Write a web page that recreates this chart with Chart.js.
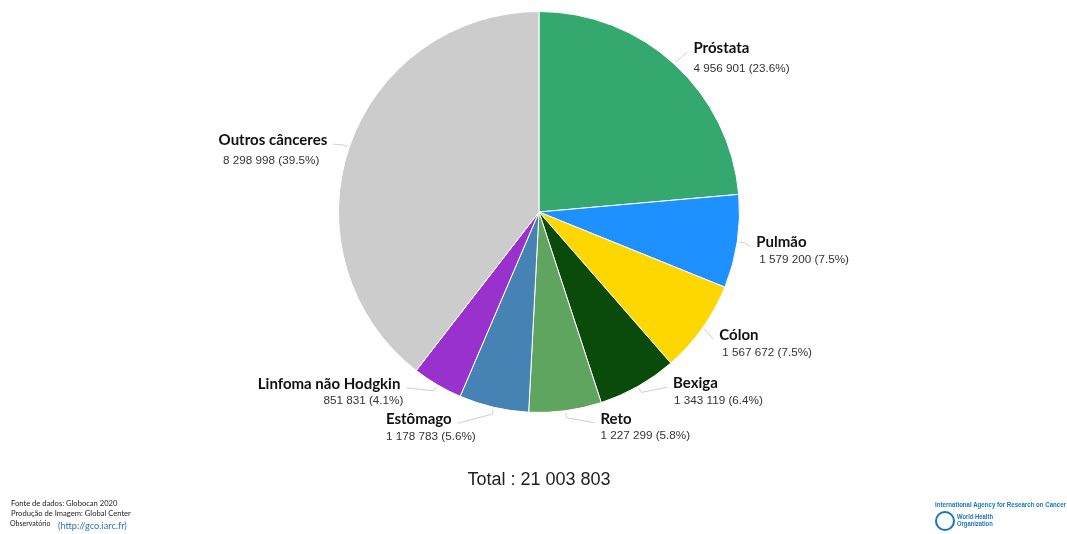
<!DOCTYPE html>
<html>
<head>
<meta charset="utf-8">
<script src="https://cdn.jsdelivr.net/npm/chart.js@4"></script>
<style>
  body { margin: 0; background: #fff; }
  #wrap { position: relative; width: 1067px; height: 534px; }
  .foot { position: absolute; font-family: Lato, sans-serif; font-size: 7.6px; color: #222; white-space: nowrap; }
  .blue { color: #2e75b6; }
  #total { position: absolute; left: 0; width: 1078px; top: 469px; text-align: center;
           font-family: "Liberation Sans", Arial, sans-serif; font-size: 18px; color: #222; }
  .who { position: absolute; font-family: "Liberation Sans", Arial, sans-serif;
         color: #1a75bc; font-weight: bold; white-space: nowrap; transform-origin: 0 0; }
</style>
</head>
<body>
<div id="wrap">
  <canvas id="myChart" width="1067" height="534"></canvas>
  <div id="total"></div>
  <div class="foot" style="left:11px;top:498px">Fonte de dados: Globocan 2020</div>
  <div class="foot" style="left:11px;top:508px">Produção de Imagem: Global Center</div>
  <div class="foot" style="left:10px;top:519px;font-size:7px">Observatório</div>
  <div class="foot blue" style="left:58px;top:520px;font-size:9.2px">(http://gco.iarc.fr)</div>
  <div class="who" id="iarc" data-w="131" style="left:935px;top:500px;font-size:8px">International Agency for Research on Cancer</div>
  <div style="position:absolute;left:935px;top:511px;width:20px;height:20px;border:2px solid #1a75bc;border-radius:50%;box-sizing:border-box"></div>
  <div class="who" id="whoname" data-w="36" style="left:957px;top:513px;font-size:7.5px;line-height:7px">World Health<br>Organization</div>
</div>
<script>
// data
const categories = ["Próstata", "Pulmão", "Cólon", "Bexiga", "Reto", "Estômago", "Linfoma não Hodgkin", "Outros cânceres"];
const cases = [4956901, 1579200, 1567672, 1343119, 1227299, 1178783, 851831, 8298998];
const colors = ["#35a86f", "#1e90ff", "#ffd700", "#0a4a0a", "#5fa45f", "#4682b4", "#9932cc", "#cccccc"];

const total = cases.reduce((a, b) => a + b, 0);
const fmt = n => String(n).replace(/\B(?=(\d{3})+(?!\d))/g, " ");
document.getElementById("total").textContent = "Total : " + fmt(total);

// squeeze logo text to its width
document.querySelectorAll(".who[data-w]").forEach(el => {
  const w = el.getBoundingClientRect().width;
  el.style.transform = "scaleX(" + (el.dataset.w / w) + ")";
});

// label placement relative to slice edge point: [dx, dy, value dx, value dy]
const labelOffset = [
  [19, -16, 0, 21],
  [19, 1, 3, 17],
  [17, 7, 3, 17],
  [35, -3, 1, 17],
  [35, 8, 0, 17],
  [-42, 12, 24, 17],
  [-37, -1, 3, 17],
  [-22, -7, -8, 21]
];

const labelsPlugin = {
  id: "sliceLabels",
  afterDatasetsDraw(chart) {
    const ctx = chart.ctx;
    const arcs = chart.getDatasetMeta(0).data;
    arcs.forEach((arc, i) => {
      const mid = (arc.startAngle + arc.endAngle) / 2;
      const r = arc.outerRadius;
      const ex = arc.x + Math.cos(mid) * r;
      const ey = arc.y + Math.sin(mid) * r;
      const [dx, dy, vdx, vdy] = labelOffset[i];
      const ax = ex + dx;
      const ay = ey + dy;
      const right = dx > 0;

      // leader line
      const bx = arc.x + Math.cos(mid) * (r + 7);
      const by = arc.y + Math.sin(mid) * (r + 7);
      ctx.save();
      ctx.strokeStyle = "#cfcfcf";
      ctx.lineWidth = 1;
      ctx.beginPath();
      ctx.moveTo(ex + Math.cos(mid) * 2, ey + Math.sin(mid) * 2);
      ctx.lineTo(bx, by);
      ctx.lineTo(right ? ax - 6 : ax + 6, ay + 4);
      ctx.stroke();

      ctx.textBaseline = "middle";
      ctx.textAlign = right ? "left" : "right";
      ctx.fillStyle = "#111";
      ctx.font = "bold 15px Lato, sans-serif";
      ctx.fillText(categories[i], ax, ay);
      ctx.fillStyle = "#333";
      ctx.font = "11.7px 'Liberation Sans', Arial, sans-serif";
      const pct = (cases[i] / total * 100).toFixed(1);
      ctx.fillText(fmt(cases[i]) + " (" + pct + "%)", ax + vdx, ay + vdy);
      ctx.restore();
    });
  }
};

new Chart(document.getElementById("myChart"), {
  type: "pie",
  data: {
    labels: categories,
    datasets: [{
      data: cases,
      backgroundColor: colors,
      borderColor: "#ffffff",
      borderWidth: 1
    }]
  },
  options: {
    responsive: false,
    animation: false,
    layout: { padding: { left: 338, right: 327, top: 11, bottom: 121 } },
    plugins: {
      legend: { display: false },
      tooltip: { enabled: false }
    }
  },
  plugins: [labelsPlugin]
});
</script>
</body>
</html>
